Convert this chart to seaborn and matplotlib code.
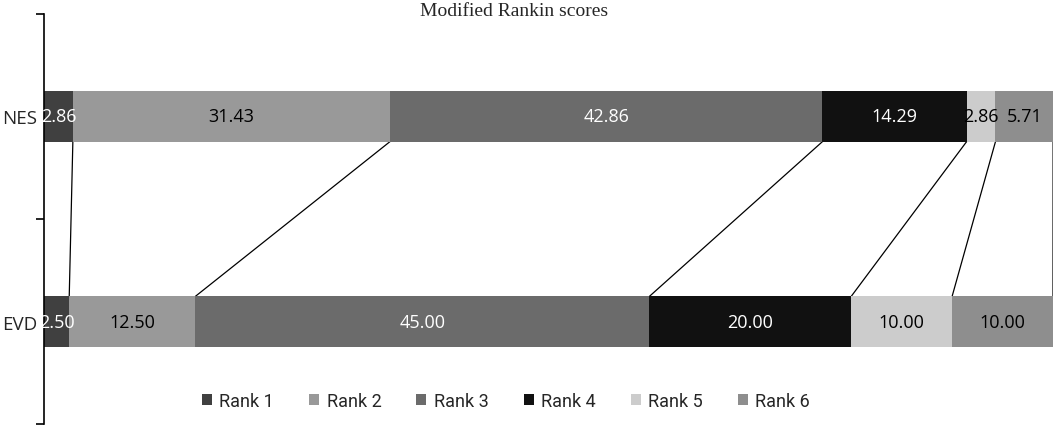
import numpy as np
import pandas as pd
import seaborn as sns
import matplotlib.pyplot as plt
from matplotlib.patches import Patch

groups = ["NES", "EVD"]
ranks = ["Rank 1", "Rank 2", "Rank 3", "Rank 4", "Rank 5", "Rank 6"]
nes = [2.86, 31.43, 42.86, 14.29, 2.86, 5.71]
evd = [2.50, 12.50, 45.00, 20.00, 10.00, 10.00]

colors = ["#404040", "#999999", "#6b6b6b", "#111111", "#cccccc", "#8e8e8e"]
label_colors = ["white", "black", "white", "white", "black", "black"]

sns.set_style("white")
plt.rcParams["font.family"] = ["Open Sans", "DejaVu Sans"]

values = np.array([nes, evd])
cum = values.cumsum(axis=1)
df = pd.DataFrame(cum, columns=ranks)
df["group"] = groups

fig = plt.figure(figsize=(10.56, 4.27), dpi=100)
ax = fig.add_axes([44 / 1056, 2 / 427, 1009 / 1056, 410 / 427])

bar_h = 0.245
# stacked look: draw cumulative widths from the last rank down to the first
for i in range(len(ranks) - 1, -1, -1):
    sns.barplot(data=df, x=ranks[i], y="group", order=groups, orient="y",
                color=colors[i], width=bar_h, saturation=1, linewidth=0, ax=ax)

# segment labels
for g in range(len(groups)):
    for i in range(len(ranks)):
        v = values[g, i]
        ax.text(cum[g, i] - v / 2, g, f"{v:.2f}", ha="center", va="center",
                fontsize=13, color=label_colors[i])

# connector lines between the two bars
for i in range(len(ranks)):
    ax.plot([cum[0, i], cum[1, i]], [0 + bar_h / 2, 1 - bar_h / 2],
            color="black", lw=0.9, zorder=0.5)

ax.set_xlim(0, 100)
ax.set_ylim(1.5, -0.5)
ax.set_xlabel("")
ax.set_ylabel("")
ax.set_xticks([])
ax.set_yticks([-0.5, 0.5, 1.5])
ax.set_yticklabels([])
ax.set_yticks([0, 1], minor=True)
ax.set_yticklabels(groups, minor=True, fontsize=13.5)
ax.tick_params(axis="y", which="major", direction="out", length=6, width=1.2,
               color="black", left=True)
ax.tick_params(axis="y", which="minor", length=0, pad=5)
for s in ["top", "right", "bottom"]:
    ax.spines[s].set_visible(False)
ax.spines["left"].set_color("black")
ax.spines["left"].set_linewidth(1.2)

fig.text(514 / 1056, 1 - 12 / 427, "Modified Rankin scores", ha="center",
         va="center", fontsize=14, family="Liberation Serif")

handles = [Patch(facecolor=c, edgecolor="none", label=r) for c, r in zip(colors, ranks)]
fig.legend(handles=handles, loc="center", bbox_to_anchor=(506 / 1056, 25 / 427),
           ncol=6, frameon=False, prop={"family": "Roboto", "size": 13},
           handlelength=0.55, handleheight=0.55, handletextpad=0.4,
           columnspacing=1.95)

fig.savefig("out.png", dpi=100)
